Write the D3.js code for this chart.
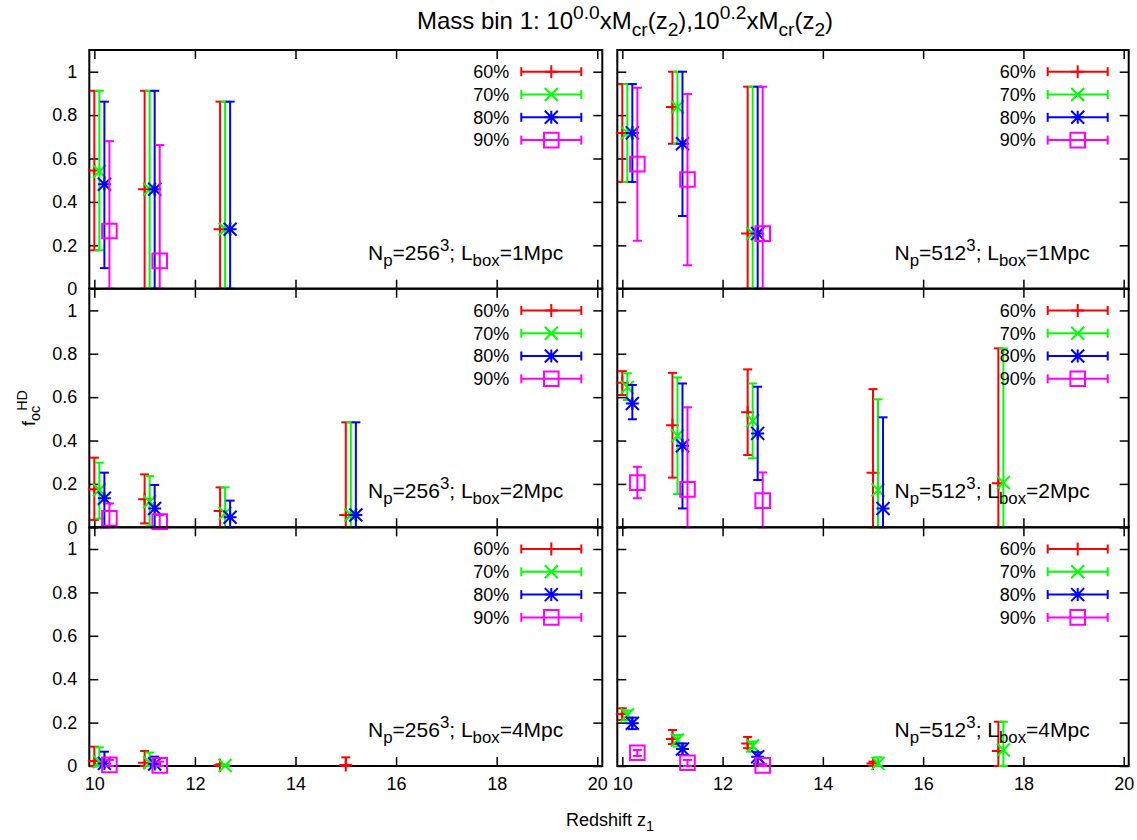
<!DOCTYPE html>
<html><head><meta charset="utf-8">
<script src="https://cdn.jsdelivr.net/npm/d3@7"></script>
<style>
body{margin:0;background:#fff}
svg{display:block}
text{font-family:"Liberation Sans",Arial,Helvetica,sans-serif;fill:#000}
</style>
</head><body>
<svg id="c" width="1137" height="840"></svg>
<script>
// ---------- data ----------
const seriesLabels = ["60%", "70%", "80%", "90%"];
const seriesColors = ["#ff0000", "#00ff00", "#0000ff", "#ff00ff"];
const seriesMarkers = ["plus", "cross", "star", "square"];
const xTickValues = [10, 12, 14, 16, 18, 20];
const yTickValues = [0, 0.2, 0.4, 0.6, 0.8, 1];
const yTickLabels = ["0", "0.2", "0.4", "0.6", "0.8", "1"];
const npLabels = ["256", "512"];
const lboxLabels = ["1", "2", "4"];
const xDomain = [9.9, 20.1];
const yDomain = [0, 1.1];

// rows: [z1, f_oc, low, high]
const n256L1_60 = [[10.0,0.545,0.177,0.912],[11.0,0.458,0,0.912],[12.5,0.274,0,0.862]];
const n256L1_70 = [[10.1,0.540,0.177,0.912],[11.1,0.458,0,0.912],[12.6,0.274,0,0.862]];
const n256L1_80 = [[10.2,0.481,0.095,0.862],[11.2,0.458,0,0.912],[12.7,0.274,0,0.862]];
const n256L1_90 = [[10.3,0.266,0,0.680],[11.3,0.128,0,0.662]];

const n512L1_60 = [[10.0,0.718,0.492,0.943],[11.0,0.837,0.668,1.0],[12.5,0.254,0,0.931]];
const n512L1_70 = [[10.1,0.718,0.492,0.943],[11.1,0.837,0.668,1.0],[12.6,0.254,0,0.931]];
const n512L1_80 = [[10.2,0.718,0.492,0.943],[11.2,0.668,0.335,1.0],[12.7,0.254,0,0.931]];
const n512L1_90 = [[10.3,0.574,0.221,0.926],[11.3,0.503,0.108,0.897],[12.8,0.254,0,0.931]];

const n256L2_60 = [[10.0,0.175,0.034,0.321],[11.0,0.129,0.018,0.244],[12.5,0.075,0,0.184],[15.0,0.057,0,0.484]];
const n256L2_70 = [[10.1,0.172,0.040,0.298],[11.1,0.118,0.005,0.236],[12.6,0.064,0,0.184],[15.1,0.057,0,0.484]];
const n256L2_80 = [[10.2,0.134,0,0.252],[11.2,0.087,0,0.195],[12.7,0.046,0,0.123],[15.2,0.057,0,0.484]];
const n256L2_90 = [[10.3,0.041,0,0.110],[11.3,0.026,0,0.057]];

const n512L2_60 = [[10.0,0.666,0.610,0.720],[11.0,0.471,0.229,0.712],[12.5,0.530,0.333,0.728],[15.0,0.252,0,0.637],[17.5,0.203,0,0.825]];
const n512L2_70 = [[10.1,0.645,0.587,0.710],[11.1,0.422,0.153,0.691],[12.6,0.491,0.318,0.663],[15.1,0.172,0,0.590],[17.6,0.206,0,0.825]];
const n512L2_80 = [[10.2,0.571,0.498,0.656],[11.2,0.376,0.087,0.663],[12.7,0.433,0.218,0.648],[15.2,0.087,0,0.507]];
const n512L2_90 = [[10.3,0.206,0.134,0.279],[11.3,0.175,0,0.553],[12.8,0.123,0,0.253]];

const n256L4_60 = [[10.0,0.023,0,0.089],[11.0,0.015,0,0.069],[12.5,0.003,0,0.008],[15.0,0.005,0,0.040]];
const n256L4_70 = [[10.1,0.020,0,0.086],[11.1,0.015,0,0.062],[12.6,0.002,0,0.005]];
const n256L4_80 = [[10.2,0.012,0,0.066],[11.2,0.009,0,0.043]];
const n256L4_90 = [[10.3,0.005,0,0.028],[11.3,0.003,0,0.020]];

const n512L4_60 = [[10.0,0.240,0.212,0.266],[11.0,0.124,0.101,0.166],[12.5,0.104,0.082,0.134],[15.0,0.012,0,0.020],[17.5,0.069,0,0.204]];
const n512L4_70 = [[10.1,0.235,0.210,0.256],[11.1,0.120,0.089,0.143],[12.6,0.092,0.066,0.113],[15.1,0.012,0,0.040],[17.6,0.074,0,0.204]];
const n512L4_80 = [[10.2,0.197,0.170,0.223],[11.2,0.078,0.051,0.104],[12.7,0.043,0.010,0.063]];
const n512L4_90 = [[10.3,0.061,0.046,0.074],[11.3,0.015,0,0.028],[12.8,0.003,0,0.010]];

const panelSeries = [
  [[n256L1_60,n256L1_70,n256L1_80,n256L1_90],[n512L1_60,n512L1_70,n512L1_80,n512L1_90]],
  [[n256L2_60,n256L2_70,n256L2_80,n256L2_90],[n512L2_60,n512L2_70,n512L2_80,n512L2_90]],
  [[n256L4_60,n256L4_70,n256L4_80,n256L4_90],[n512L4_60,n512L4_70,n512L4_80,n512L4_90]]
];

// ---------- layout ----------
const colX = [[89.3, 602.3], [617.3, 1128.7]];
const rowY = [[50, 288.7], [288.7, 527.3], [527.3, 766]];
const FS = 18;

const svg = d3.select("#c");

function markerPath(type, s) {
  const plus = `M${-s},0H${s}M0,${-s}V${s}`;
  const cross = `M${-s},${-s}L${s},${s}M${-s},${s}L${s},${-s}`;
  if (type === "plus") return plus;
  if (type === "cross") return cross;
  if (type === "star") return plus + cross;
  return `M${-s},${-s}H${s}V${s}H${-s}Z`;
}
const markerSize = {plus: 6.5, cross: 6.5, star: 6.5, square: 7.3};
const CAP = 4.5;

// rich text helper: parts = [[text, mode, dx]] mode: "n","sub","sup"
function richText(sel, fs, parts) {
  let cur = 0;
  parts.forEach(([t, mode, dx]) => {
    const target = mode === "sub" ? 0.28 * fs : mode === "sup" ? -0.42 * fs : 0;
    const ts = sel.append("tspan").text(t)
      .attr("dy", target - cur)
      .attr("font-size", mode === "n" ? fs : 0.8 * fs);
    if (dx) ts.attr("dx", dx);
    cur = target;
  });
}

for (let r = 0; r < 3; r++) {
  for (let c = 0; c < 2; c++) {
    const [x0, x1] = colX[c];
    const [yTop, yBot] = rowY[r];
    const x = d3.scaleLinear().domain(xDomain).range([x0, x1]);
    const y = d3.scaleLinear().domain(yDomain).range([yBot, yTop]);
    const g = svg.append("g");

    const axB = g.append("g").attr("transform", `translate(0,${yBot})`)
      .call(d3.axisBottom(x).tickValues(xTickValues).tickSize(-9).tickPadding(11)
        .tickFormat(r === 2 ? d3.format("d") : () => ""));
    const axT = g.append("g").attr("transform", `translate(0,${yTop})`)
      .call(d3.axisTop(x).tickValues(xTickValues).tickSize(-9).tickFormat(() => ""));
    const axL = g.append("g").attr("transform", `translate(${x0},0)`)
      .call(d3.axisLeft(y).tickValues(yTickValues).tickSize(-9).tickPadding(12)
        .tickFormat((d, i) => c === 0 ? yTickLabels[i] : ""));
    const axR = g.append("g").attr("transform", `translate(${x1},0)`)
      .call(d3.axisRight(y).tickValues(yTickValues).tickSize(-9).tickFormat(() => ""));
    [axB, axT, axL, axR].forEach(a => {
      a.select(".domain").remove();
      a.selectAll(".tick line").attr("stroke", "#000").attr("stroke-width", 1.5);
      a.selectAll(".tick text").attr("font-size", FS).attr("fill", "#000")
        .style("font-family", '"Liberation Sans", Arial, sans-serif');
    });

    g.append("rect").attr("x", x0).attr("y", yTop)
      .attr("width", x1 - x0).attr("height", yBot - yTop)
      .attr("fill", "none").attr("stroke", "#000").attr("stroke-width", 2);

    const series = panelSeries[r][c];
    series.forEach((data, si) => {
      const col = seriesColors[si];
      const sg = g.append("g").attr("stroke", col).attr("fill", "none").attr("stroke-width", 2);
      data.forEach(d => {
        const px = x(d[0]);
        sg.append("line").attr("x1", px).attr("x2", px).attr("y1", y(d[2])).attr("y2", y(d[3]));
        sg.append("line").attr("x1", px - CAP).attr("x2", px + CAP).attr("y1", y(d[2])).attr("y2", y(d[2]));
        sg.append("line").attr("x1", px - CAP).attr("x2", px + CAP).attr("y1", y(d[3])).attr("y2", y(d[3]));
        sg.append("path").attr("transform", `translate(${px},${y(d[1])})`)
          .attr("d", markerPath(seriesMarkers[si], markerSize[seriesMarkers[si]]));
      });
    });

    seriesLabels.forEach((lab, si) => {
      const ly = yTop + 21.7 + si * 22.8;
      g.append("text").attr("x", x1 - 93).attr("y", ly).attr("dy", "0.35em")
        .attr("text-anchor", "end").attr("font-size", FS).text(lab);
      const lg = g.append("g").attr("stroke", seriesColors[si]).attr("fill", "none").attr("stroke-width", 2);
      const a = x1 - 81, b = x1 - 21, m = (a + b) / 2;
      lg.append("line").attr("x1", a).attr("x2", b).attr("y1", ly).attr("y2", ly);
      lg.append("line").attr("x1", a).attr("x2", a).attr("y1", ly - CAP).attr("y2", ly + CAP);
      lg.append("line").attr("x1", b).attr("x2", b).attr("y1", ly - CAP).attr("y2", ly + CAP);
      lg.append("path").attr("transform", `translate(${m},${ly})`)
        .attr("d", markerPath(seriesMarkers[si], markerSize[seriesMarkers[si]]));
    });

    const t = g.append("text").attr("x", x1 - 39).attr("y", yBot - 29)
      .attr("text-anchor", "end");
    richText(t, 21, [["N","n"],["p","sub"],["=" + npLabels[c],"n"],["3","sup"],["; L","n"],["box","sub"],["=" + lboxLabels[r] + "Mpc","n"]]);
  }
}

const title = svg.append("text").attr("x", 625).attr("y", 29).attr("text-anchor", "middle");
richText(title, 24, [["Mass bin 1: 10","n"],["0.0","sup"],["xM","n"],["cr","sub"],["(z","n"],["2","sub"],["),10","n"],["0.2","sup"],["xM","n"],["cr","sub"],["(z","n"],["2","sub"],[")","n"]]);

const xl = svg.append("text").attr("x", 610).attr("y", 826).attr("text-anchor", "middle");
richText(xl, FS, [["Redshift z","n"],["1","sub"]]);

const yl = svg.append("text").attr("transform", "translate(35,408) rotate(-90)")
  .attr("text-anchor", "middle");
richText(yl, FS, [["f","n"],["oc","sub"],["HD","sup",-5]]);
</script>
</body></html>
